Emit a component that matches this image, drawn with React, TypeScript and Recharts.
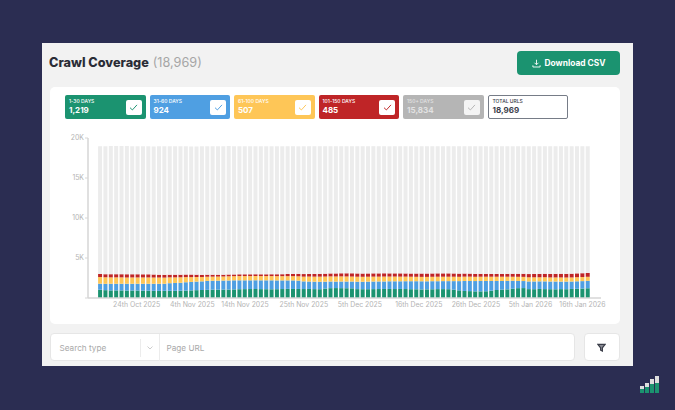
import React from "react";
import { BarChart, Bar, XAxis, YAxis } from "recharts";

const startDate = [2025, 9, 17];
const skippedAfterIndex = 13;
const monthNames = ["Jan","Feb","Mar","Apr","May","Jun","Jul","Aug","Sep","Oct","Nov","Dec"];

const green = [1030,980,950,950,950,950,940,940,930,920,900,890,900,900,900,910,930,950,980,1000,1020,1040,1050,1050,1060,1070,1100,1110,1120,1120,1110,1100,1090,1100,1120,1140,1130,1130,1120,1130,1110,1100,1180,1230,1240,1230,1220,1210,1110,1100,1100,1110,1120,1130,1130,1120,1130,1120,1100,1090,1070,1080,1090,1110,1110,1100,1040,960,880,860,830,830,840,920,1000,1050,1080,1150,1230,1240,1110,1100,1130,1110,1100,1090,1110,1100,1130,1150,1180,1219];
const blue = [760,790,830,830,830,830,840,840,850,860,880,890,880,950,980,990,1040,1060,1070,1080,1120,1120,1120,1130,1130,1140,1110,1100,1090,1090,1100,1110,1120,1100,1080,1060,1070,1040,960,930,930,930,860,830,810,830,840,850,930,930,950,950,950,940,960,970,960,980,1000,1010,1020,1010,1010,990,1000,1010,1070,1150,1250,1270,1290,1300,1290,1210,1130,1080,1060,1000,900,880,960,970,950,970,960,970,940,950,930,940,930,924];
const yellow = [830,820,800,800,800,790,790,790,790,790,780,780,770,730,700,690,640,600,570,540,520,510,510,510,520,520,530,530,530,530,530,530,530,530,530,530,530,540,590,620,630,640,640,640,640,640,630,620,620,620,610,610,600,610,590,590,580,570,560,550,550,550,550,560,550,550,550,540,540,540,530,530,530,530,530,530,520,520,520,520,520,520,510,520,510,510,520,510,510,510,510,507];
const red = [380,390,400,400,400,400,400,400,390,390,380,360,350,340,340,330,320,320,300,280,260,250,240,230,230,220,220,220,220,220,220,220,230,240,250,270,290,310,320,330,340,350,360,370,380,390,400,410,410,410,410,410,410,410,400,400,410,400,400,410,420,420,420,420,420,420,410,400,390,380,370,360,360,350,350,360,360,370,380,390,400,410,420,430,440,450,460,460,470,480,480,485];
const gray = [15970,15990,16030,16030,16030,16030,16000,16000,16000,16000,16010,16050,16070,16050,16050,16040,16040,16010,16020,16070,16050,16050,16050,16050,16050,16020,16010,16010,16000,16000,16010,16010,16000,16000,15990,15970,15950,15940,15980,15960,15960,15950,15930,15900,15900,15880,15880,15880,15900,15910,15900,15900,15890,15880,15880,15890,15890,15900,15910,15900,15910,15910,15900,15890,15890,15890,15900,15920,15910,15920,15950,15950,15950,15950,15960,15950,15950,15930,15940,15940,15980,15970,15960,15940,15960,15950,15940,15950,15930,15890,15870,15834];

const tickLabels = ["24th Oct 2025","4th Nov 2025","14th Nov 2025","25th Nov 2025","5th Dec 2025","16th Dec 2025","26th Dec 2025","5th Jan 2026","16th Jan 2026"];
const tickNudges = [-1, 1, 0, 0, 2.5, 2.5, 6, 7, 0];
const yTicks = [0, 5000, 10000, 15000, 20000];
const yTickLabels = ["", "5K", "10K", "15K", "20K"];

const legendLabels = ["1-30 DAYS","31-60 DAYS","61-100 DAYS","101-150 DAYS","150+ DAYS"];
const legendValues = ["1,219","924","507","485","15,834"];
const totalLabel = "TOTAL URLS";
const totalValue = "18,969";
const legendColors = ["#1b9370","#4f9fe2","#fec657","#bf2527","#b5b5b5"];
const barGrey = "#ececec";

function ordinal(d: number) {
  if (d % 10 === 1 && d !== 11) return d + "st";
  if (d % 10 === 2 && d !== 12) return d + "nd";
  if (d % 10 === 3 && d !== 13) return d + "rd";
  return d + "th";
}
const rows = green.map((g, i) => {
  const dayOffset = i > skippedAfterIndex - 1 ? i + 1 : i;
  const dt = new Date(Date.UTC(startDate[0], startDate[1], startDate[2] + dayOffset));
  return {
    date: `${ordinal(dt.getUTCDate())} ${monthNames[dt.getUTCMonth()]} ${dt.getUTCFullYear()}`,
    green: g, blue: blue[i], yellow: yellow[i], red: red[i], gray: gray[i],
  };
});

const FONT = "Inter, 'Noto Sans', sans-serif";

function Check({ color }: { color: string }) {
  return (
    <div style={{ width: 16, height: 15.5, background: "#fff", borderRadius: 2, display: "flex", alignItems: "center", justifyContent: "center", opacity: color === legendColors[4] ? 0.85 : 1 }}>
      <svg width="9" height="7" viewBox="0 0 10 8"><path d="M1 4.2 L3.7 6.8 L9 1" fill="none" stroke={color} strokeWidth="1.1" /></svg>
    </div>
  );
}

function Tile({ label, value, color, i }: { label: string; value: string; color: string; i: number }) {
  const muted = i === 4;
  return (
    <div style={{ width: 80.5, height: 24, background: color, borderRadius: 2, position: "relative", color: muted ? "#e2e2e2" : "#fff", flex: "none" }}>
      <div style={{ position: "absolute", left: 4, top: 3, fontSize: 5, lineHeight: "6px", fontWeight: 500, whiteSpace: "nowrap" }}>{label}</div>
      <div style={{ position: "absolute", left: 4, top: 10, fontSize: 8, lineHeight: "11px", fontWeight: 700, whiteSpace: "nowrap" }}>{value}</div>
      <div style={{ position: "absolute", right: 4, top: 4.5 }}><Check color={color} /></div>
    </div>
  );
}

function Logo() {
  const xs = [640, 645, 650, 655];
  const tops = [385.7, 382.7, 379.3, 376];
  const mids = [389, 386.7, 384, 383.3];
  return (
    <>
      {xs.map((x, i) => (
        <React.Fragment key={x}>
          <div style={{ position: "absolute", left: x, top: tops[i], width: 3.8, height: mids[i] - tops[i], background: "#dedede" }} />
          <div style={{ position: "absolute", left: x, top: mids[i], width: 3.8, height: 393.3 - mids[i], background: "#1b9370" }} />
        </React.Fragment>
      ))}
    </>
  );
}

function DateTick(props: any) {
  const { x, y, index, payload } = props;
  return (
    <text x={x + (tickNudges[index] || 0)} y={y + 1} textAnchor="middle" fontSize={6.9} fill="#b4b4b4" fontFamily={FONT}>
      {payload.value}
    </text>
  );
}

export default function App() {
  const axisColor = "#d6d6d6";
  const tickStyle = { fontSize: 6.9, fill: "#b4b4b4", fontFamily: FONT };
  return (
    <div style={{ position: "fixed", left: 0, top: 0, width: 675, height: 410, background: "#2b2d52", overflow: "hidden", fontFamily: FONT }}>
      <div style={{ position: "absolute", left: 42, top: 43, width: 591, height: 323, background: "#f2f2f2" }} />
      <div style={{ position: "absolute", left: 49, top: 53.5, fontSize: 12.7, lineHeight: "18px", fontWeight: 800, color: "#2a2c36", whiteSpace: "nowrap" }}>
        Crawl Coverage <span style={{ fontWeight: 400, color: "#a6a6a6", marginLeft: 1 }}>(18,969)</span>
      </div>
      <div style={{ position: "absolute", left: 517, top: 51, width: 103, height: 24, background: "#1b9370", borderRadius: 4, color: "#fff", display: "flex", alignItems: "center", justifyContent: "center", gap: 4, fontSize: 8.4, fontWeight: 700, whiteSpace: "nowrap" }}>
        <svg width="9" height="9" viewBox="0 0 10 10"><path d="M5 0.8 V6.2 M2.8 4.2 L5 6.4 L7.2 4.2 M1 7 V8.9 H9 V7" fill="none" stroke="#fff" strokeWidth="1" /></svg>
        Download CSV
      </div>
      <div style={{ position: "absolute", left: 50, top: 87, width: 570, height: 237, background: "#fff", borderRadius: 5 }} />
      <div style={{ position: "absolute", left: 65, top: 95, display: "flex", gap: 4 }}>
        {legendLabels.map((l, i) => (
          <Tile key={l} label={l} value={legendValues[i]} color={legendColors[i]} i={i} />
        ))}
        <div style={{ width: 80, height: 24, boxSizing: "border-box", background: "#fff", border: "1.5px solid #767c87", borderRadius: 2, position: "relative", color: "#3a3d4a", flex: "none", marginLeft: 0.5 }}>
          <div style={{ position: "absolute", left: 3.5, top: 1.5, fontSize: 5, lineHeight: "6px", fontWeight: 500, whiteSpace: "nowrap" }}>{totalLabel}</div>
          <div style={{ position: "absolute", left: 3.5, top: 8.5, fontSize: 8, lineHeight: "11px", fontWeight: 700, whiteSpace: "nowrap" }}>{totalValue}</div>
        </div>
      </div>
      <div style={{ position: "absolute", left: 0, top: 0 }}>
        <BarChart width={675} height={410} data={rows} margin={{ top: 138, right: 74, left: 0, bottom: 0 }} barCategoryGap="11%" stackOffset="none">
          <XAxis dataKey="date" ticks={tickLabels} interval={0} height={112} padding={{ left: 9.5, right: 10.5 }} tick={<DateTick />} tickLine={false} tickMargin={2} axisLine={{ stroke: axisColor, strokeWidth: 1.5 }} />
          <YAxis width={88} type="number" domain={[0, 20000]} ticks={yTicks} tickFormatter={(v: number) => yTickLabels[yTicks.indexOf(v)]} tick={tickStyle} tickSize={3} tickMargin={1} tickLine={{ stroke: axisColor }} axisLine={{ stroke: axisColor, strokeWidth: 1.5 }} />
          <Bar dataKey="green" stackId="a" fill={legendColors[0]} isAnimationActive={false} />
          <Bar dataKey="blue" stackId="a" fill={legendColors[1]} isAnimationActive={false} />
          <Bar dataKey="yellow" stackId="a" fill={legendColors[2]} isAnimationActive={false} />
          <Bar dataKey="red" stackId="a" fill={legendColors[3]} isAnimationActive={false} />
          <Bar dataKey="gray" stackId="a" fill={barGrey} isAnimationActive={false} />
        </BarChart>
      </div>
      <div style={{ position: "absolute", left: 50, top: 333, width: 525, height: 28, boxSizing: "border-box", background: "#fff", border: "0.5px solid #e6e6e6", borderRadius: 4, fontSize: 8.2, color: "#a9a9a9", fontWeight: 400 }}>
        <div style={{ position: "absolute", left: 8.5, top: 8.5, lineHeight: "10px" }}>Search type</div>
        <div style={{ position: "absolute", left: 89, top: 4.5, width: 1, height: 18, background: "#ececec" }} />
        <svg style={{ position: "absolute", left: 94.5, top: 10.5 }} width="8" height="6" viewBox="0 0 8 6"><path d="M1.5 1.5 L4 4 L6.5 1.5" fill="none" stroke="#b8b8b8" strokeWidth="0.7" /></svg>
        <div style={{ position: "absolute", left: 107.5, top: 0, width: 1, height: 27, background: "#ececec" }} />
        <div style={{ position: "absolute", left: 115.5, top: 8.5, lineHeight: "10px" }}>Page URL</div>
      </div>
      <div style={{ position: "absolute", left: 584, top: 333, width: 35.5, height: 28, boxSizing: "border-box", background: "#fff", border: "0.5px solid #e6e6e6", borderRadius: 4, display: "flex", alignItems: "center", justifyContent: "center" }}>
        <svg width="9" height="9" viewBox="0 0 10 10"><path d="M1 1.5 H9 L6 5.3 V9 L4 8 V5.3 Z" fill="#8a8c95" stroke="#3b3e49" strokeWidth="1.3" /></svg>
      </div>
      <Logo />
    </div>
  );
}
